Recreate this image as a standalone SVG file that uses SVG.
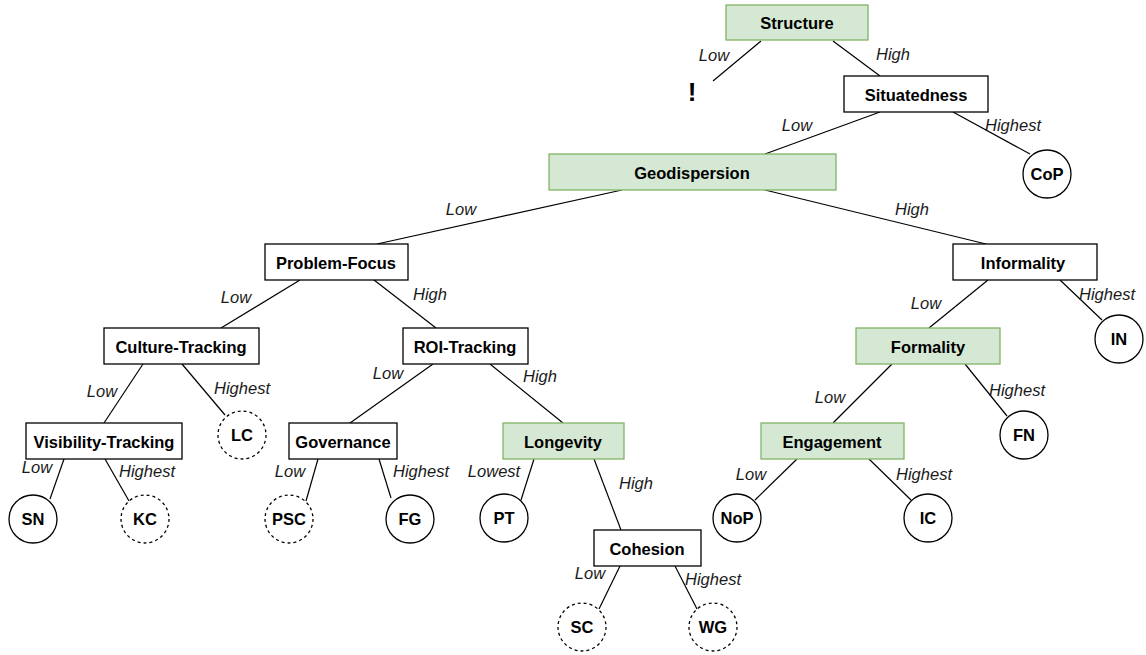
<svg xmlns="http://www.w3.org/2000/svg" width="1146" height="655" viewBox="0 0 1146 655">
  <style>
    .box { fill: #ffffff; stroke: #000000; stroke-width: 1.3; }
    .green { fill: #d5e8d4; stroke: #82b366; stroke-width: 1.3; }
    .leaf { fill: #ffffff; stroke: #000000; stroke-width: 1.3; }
    .dash { stroke-dasharray: 3 3; }
    .name { font-family: "Liberation Sans", Arial, sans-serif; font-size: 16.5px; font-weight: bold; fill: #000000; text-anchor: middle; dominant-baseline: central; }
    .lbl { font-family: "Liberation Sans", Arial, sans-serif; font-size: 16.5px; font-style: italic; fill: #1a1a1a; text-anchor: middle; dominant-baseline: central; }
    .edge { stroke: #000000; stroke-width: 1.2; fill: none; }
  </style>

  <!-- connectors -->
  <g id="connectors">
    <line class="edge" x1="761" y1="41" x2="713" y2="81"/>
    <line class="edge" x1="833" y1="41" x2="880" y2="76"/>
    <line class="edge" x1="880" y1="112" x2="765" y2="154"/>
    <line class="edge" x1="953" y1="112" x2="1030" y2="154"/>
    <line class="edge" x1="622" y1="190" x2="377" y2="244"/>
    <line class="edge" x1="765" y1="190" x2="986" y2="244"/>
    <line class="edge" x1="300" y1="280" x2="221" y2="328"/>
    <line class="edge" x1="374" y1="280" x2="436" y2="328"/>
    <line class="edge" x1="988" y1="280" x2="929" y2="328"/>
    <line class="edge" x1="1060" y1="280" x2="1102" y2="320"/>
    <line class="edge" x1="143" y1="364" x2="104" y2="423"/>
    <line class="edge" x1="182" y1="364" x2="225" y2="415"/>
    <line class="edge" x1="433" y1="364" x2="350" y2="423"/>
    <line class="edge" x1="490" y1="364" x2="563" y2="423"/>
    <line class="edge" x1="892" y1="364" x2="833" y2="423"/>
    <line class="edge" x1="965" y1="364" x2="1007" y2="416"/>
    <line class="edge" x1="64" y1="459" x2="50" y2="499"/>
    <line class="edge" x1="105" y1="459" x2="129" y2="501"/>
    <line class="edge" x1="318" y1="459" x2="306" y2="501"/>
    <line class="edge" x1="379" y1="459" x2="391" y2="498"/>
    <line class="edge" x1="534" y1="459" x2="521" y2="500"/>
    <line class="edge" x1="594" y1="459" x2="621" y2="530"/>
    <line class="edge" x1="797" y1="459" x2="755" y2="500"/>
    <line class="edge" x1="869" y1="459" x2="911" y2="500"/>
    <line class="edge" x1="620" y1="566" x2="599" y2="609"/>
    <line class="edge" x1="675" y1="566" x2="697" y2="609"/>

    <text class="lbl" x="714" y="55">Low</text>
    <text class="lbl" x="893" y="54">High</text>
    <text class="lbl" x="797" y="125">Low</text>
    <text class="lbl" x="1013" y="125">Highest</text>
    <text class="lbl" x="461" y="209">Low</text>
    <text class="lbl" x="912" y="209">High</text>
    <text class="lbl" x="236" y="297">Low</text>
    <text class="lbl" x="430" y="294">High</text>
    <text class="lbl" x="926" y="303">Low</text>
    <text class="lbl" x="1107" y="294">Highest</text>
    <text class="lbl" x="102" y="391">Low</text>
    <text class="lbl" x="242" y="388">Highest</text>
    <text class="lbl" x="388" y="373">Low</text>
    <text class="lbl" x="540" y="376">High</text>
    <text class="lbl" x="830" y="397">Low</text>
    <text class="lbl" x="1017" y="390">Highest</text>
    <text class="lbl" x="37" y="467">Low</text>
    <text class="lbl" x="147" y="471">Highest</text>
    <text class="lbl" x="290" y="471">Low</text>
    <text class="lbl" x="421" y="471">Highest</text>
    <text class="lbl" x="494" y="471">Lowest</text>
    <text class="lbl" x="636" y="483">High</text>
    <text class="lbl" x="751" y="474">Low</text>
    <text class="lbl" x="924" y="474">Highest</text>
    <text class="lbl" x="590" y="573">Low</text>
    <text class="lbl" x="713" y="579">Highest</text>
  </g>

  <!-- decision nodes -->
  <g id="structure"><rect class="green" x="726" y="5" width="142" height="35"/><text class="name" x="797" y="23">Structure</text></g>
  <g id="warning"><text class="name" x="692" y="92" style="font-size:26px">!</text></g>
  <g id="situatedness"><rect class="box" x="844" y="76" width="144" height="36"/><text class="name" x="916" y="95">Situatedness</text></g>
  <g id="geodispersion"><rect class="green" x="549" y="154" width="287" height="36"/><text class="name" x="692" y="173">Geodispersion</text></g>
  <g id="problem-focus"><rect class="box" x="265" y="244" width="143" height="36"/><text class="name" x="336" y="263">Problem-Focus</text></g>
  <g id="informality"><rect class="box" x="953" y="244" width="144" height="36"/><text class="name" x="1023" y="263">Informality</text></g>
  <g id="culture-tracking"><rect class="box" x="104" y="328" width="155" height="36"/><text class="name" x="181" y="347">Culture-Tracking</text></g>
  <g id="roi-tracking"><rect class="box" x="403" y="328" width="125" height="36"/><text class="name" x="465" y="347">ROI-Tracking</text></g>
  <g id="formality"><rect class="green" x="856" y="328" width="144" height="36"/><text class="name" x="928" y="347">Formality</text></g>
  <g id="visibility-tracking"><rect class="box" x="26" y="423" width="156" height="36"/><text class="name" x="104" y="442">Visibility-Tracking</text></g>
  <g id="governance"><rect class="box" x="289" y="423" width="108" height="36"/><text class="name" x="343" y="442">Governance</text></g>
  <g id="longevity"><rect class="green" x="503" y="423" width="121" height="36"/><text class="name" x="563" y="442">Longevity</text></g>
  <g id="engagement"><rect class="green" x="761" y="423" width="143" height="36"/><text class="name" x="832" y="442">Engagement</text></g>
  <g id="cohesion"><rect class="box" x="594" y="530" width="107" height="36"/><text class="name" x="647" y="549">Cohesion</text></g>

  <!-- outcome nodes -->
  <g id="cop"><circle class="leaf" cx="1047" cy="174" r="24"/><text class="name" x="1047" y="174">CoP</text></g>
  <g id="in"><circle class="leaf" cx="1119" cy="339" r="24"/><text class="name" x="1119" y="339">IN</text></g>
  <g id="lc"><circle class="leaf dash" cx="242" cy="435" r="24"/><text class="name" x="242" y="435">LC</text></g>
  <g id="fn"><circle class="leaf" cx="1024" cy="435" r="24"/><text class="name" x="1024" y="435">FN</text></g>
  <g id="sn"><circle class="leaf" cx="33" cy="519" r="24"/><text class="name" x="33" y="519">SN</text></g>
  <g id="kc"><circle class="leaf dash" cx="145" cy="519" r="24"/><text class="name" x="145" y="519">KC</text></g>
  <g id="psc"><circle class="leaf dash" cx="289" cy="519" r="24"/><text class="name" x="289" y="519">PSC</text></g>
  <g id="fg"><circle class="leaf" cx="410" cy="519" r="24"/><text class="name" x="410" y="519">FG</text></g>
  <g id="pt"><circle class="leaf" cx="504" cy="518" r="24"/><text class="name" x="504" y="518">PT</text></g>
  <g id="nop"><circle class="leaf" cx="737" cy="518" r="24"/><text class="name" x="737" y="518">NoP</text></g>
  <g id="ic"><circle class="leaf" cx="928" cy="518" r="24"/><text class="name" x="928" y="518">IC</text></g>
  <g id="sc"><circle class="leaf dash" cx="582" cy="627" r="24"/><text class="name" x="582" y="627">SC</text></g>
  <g id="wg"><circle class="leaf dash" cx="713" cy="627" r="24"/><text class="name" x="713" y="627">WG</text></g>
</svg>
